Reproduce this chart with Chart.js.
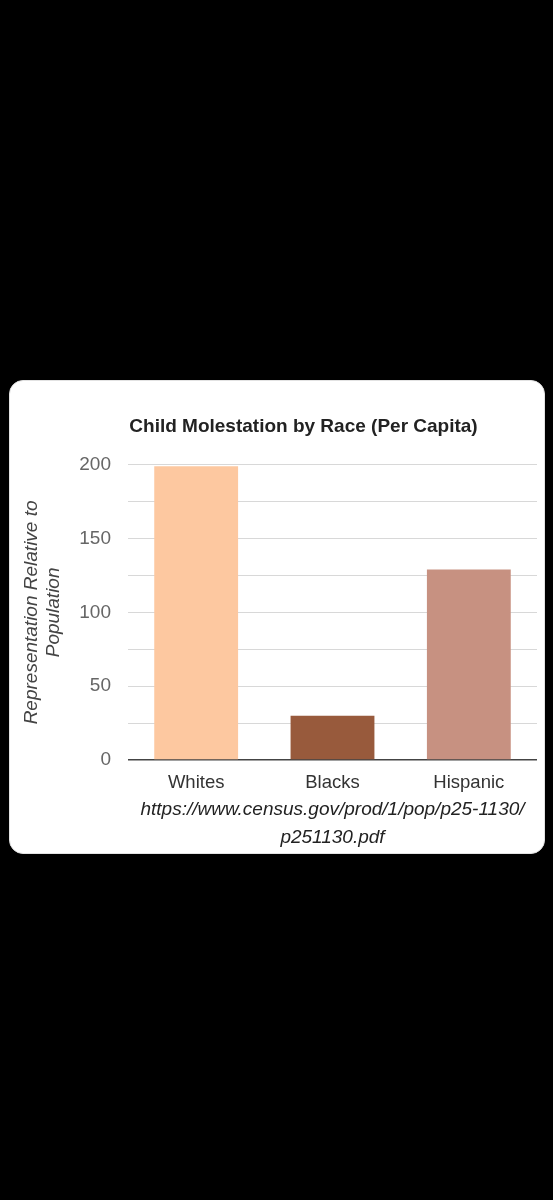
<!DOCTYPE html>
<html>
<head>
<meta charset="utf-8">
<script src="https://cdn.jsdelivr.net/npm/chart.js@4.4.1/dist/chart.umd.min.js"></script>
<style>
  html, body { margin: 0; padding: 0; background: #000; }
  body { width: 553px; height: 1200px; position: relative; }
  .card {
    position: absolute; left: 9px; top: 380px; width: 536px; height: 474px;
    background: #fff; border: 1px solid #e2e2e2; border-radius: 14px; box-sizing: border-box;
    overflow: hidden;
  }
  .card canvas { display: block; }
</style>
</head>
<body>
<div class="card"><canvas id="chart" width="536" height="474"></canvas></div>
<script>
// chart data
const categories = ['Whites', 'Blacks', 'Hispanic'];
const values = [199, 30, 129];
const barColors = ['#fdc8a0', '#985a3c', '#c79181'];
const chartTitle = 'Child Molestation by Race (Per Capita)';
const yTitle = ['Representation Relative to', 'Population'];
const xTitle = ['https://www.census.gov/prod/1/pop/p25-1130/', 'p251130.pdf'];

const font = '"Liberation Sans", Arial, sans-serif';

// the title in the picture sits a bit right of the canvas centre
const nudgeTitle = {
  id: 'nudgeTitle',
  afterLayout(chart) {
    if (chart.titleBlock) chart.titleBlock.left += 51;
  }
};

new Chart(document.getElementById('chart'), {
  type: 'bar',
  data: {
    labels: categories,
    datasets: [{
      data: values,
      backgroundColor: barColors,
      borderWidth: 0,
      categoryPercentage: 1,
      barPercentage: 0.615
    }]
  },
  options: {
    responsive: false,
    animation: false,
    layout: { padding: { left: 9, right: 9, top: 0, bottom: 3 } },
    plugins: {
      legend: { display: false },
      tooltip: { enabled: false },
      title: {
        display: true,
        text: chartTitle,
        color: '#222',
        font: { family: font, size: 19, weight: 'bold' },
        padding: { top: 34, bottom: 27 }
      }
    },
    scales: {
      x: {
        afterFit: axis => { axis.height = 92; },
        grid: { display: false, drawTicks: false },
        border: { display: false },
        ticks: {
          color: '#333',
          font: { family: font, size: 18.5 },
          padding: 12
        },
        title: {
          display: true,
          text: xTitle,
          color: '#222',
          font: { family: font, size: 19, style: 'italic', lineHeight: 1.47 },
          padding: { top: 0, bottom: 0 }
        }
      },
      y: {
        min: 0,
        max: 200,
        afterFit: axis => { axis.width = 109; },
        border: { display: false },
        grid: {
          drawTicks: false,
          color: ctx => ctx.tick && ctx.tick.value === 0 ? '#444' : '#d8d8d8',
          lineWidth: ctx => ctx.tick && ctx.tick.value === 0 ? 1.5 : 1
        },
        ticks: {
          stepSize: 25,
          color: '#666',
          font: { family: font, size: 19 },
          padding: 17,
          callback: v => (v % 50 === 0 ? v : '')
        },
        title: {
          display: true,
          text: yTitle,
          color: '#444',
          font: { family: font, size: 19, style: 'italic', lineHeight: 1.2 },
          padding: { top: 1, bottom: 0 }
        }
      }
    }
  },
  plugins: [nudgeTitle]
});
</script>
</body>
</html>
